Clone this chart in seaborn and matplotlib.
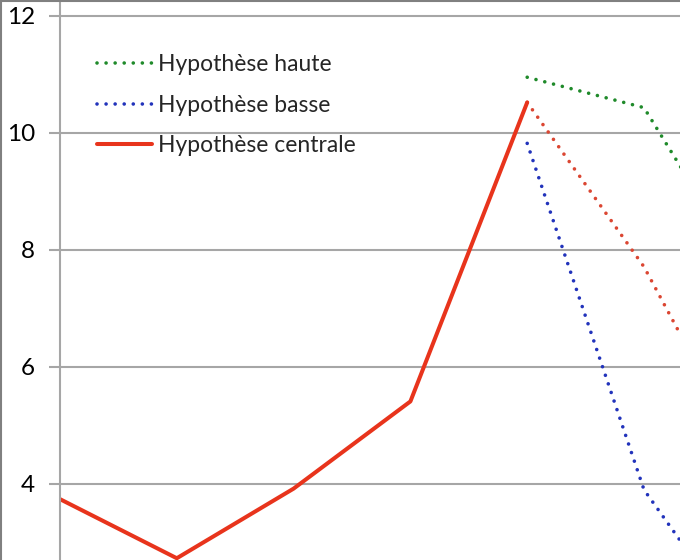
import pandas as pd
import seaborn as sns
import matplotlib.pyplot as plt
from matplotlib.lines import Line2D

# values (index 6 is just outside the visible frame)
periode = [0, 1, 2, 3, 4, 5, 6]
centrale_hist = [3.74, 2.73, 3.92, 5.41, 10.52, None, None]
haute = [None, None, None, None, 10.95, 10.43, 7.2]
basse = [None, None, None, None, 9.82, 3.90, 1.1]
centrale_proj = [None, None, None, None, 10.52, 7.71, 4.0]
y_ticks = [4, 6, 8, 10, 12]

df = pd.DataFrame({'periode': periode, 'centrale': centrale_hist, 'haute': haute,
                   'basse': basse, 'centrale_proj': centrale_proj})

sns.set_style('white')
plt.rcParams['font.family'] = ['Lato', 'DejaVu Sans']

fig = plt.figure(figsize=(6.8, 5.6), dpi=100)
ax = fig.add_axes([60 / 680, 0, 620 / 680, 1])

dots = (0, (0.01, 2.5))
green, blue, red_dot, red = '#1f8a2a', '#2233bb', '#db4632', '#e8341c'

sns.lineplot(data=df, x='periode', y='haute', ax=ax, color=green, lw=2.6,
             linestyle=dots, dash_capstyle='round', label='Hypothèse haute')
sns.lineplot(data=df, x='periode', y='basse', ax=ax, color=blue, lw=2.6,
             linestyle=dots, dash_capstyle='round', label='Hypothèse basse')
sns.lineplot(data=df, x='periode', y='centrale_proj', ax=ax, color=red_dot, lw=2.6,
             linestyle=dots, dash_capstyle='round', legend=False)
sns.lineplot(data=df, x='periode', y='centrale', ax=ax, color=red, lw=2.9,
             label='Hypothèse centrale')

ax.set_xlim(0, 620 / 116.8)
ax.set_ylim(2.70, 12.27)
ax.set_yticks(y_ticks)
ax.set_xticks([])
ax.set_xlabel('')
ax.set_ylabel('')
ax.yaxis.grid(True, color='#a6a6a6', lw=1.5)
ax.tick_params(axis='y', left=True, length=8, width=1.5, color='#a6a6a6',
               labelsize=17.5, pad=10, labelcolor='black')
for s in ['top', 'right', 'bottom']:
    ax.spines[s].set_visible(False)
ax.spines['left'].set_color('#a6a6a6')
ax.spines['left'].set_linewidth(1.5)

leg = ax.legend(loc='upper left', bbox_to_anchor=(97 / 680, 1 - 54 / 560),
                bbox_transform=fig.transFigure, frameon=False, fontsize=16.5,
                handlelength=2.4, handletextpad=0.25, labelspacing=0.86,
                borderpad=0, borderaxespad=0)

# thin frame left over from the cropped chart
fig.add_artist(Line2D([0.0015, 0.0015], [0, 1], transform=fig.transFigure, color='#808080', lw=1.5))
fig.add_artist(Line2D([0, 1], [0.998, 0.998], transform=fig.transFigure, color='#808080', lw=1.5))

fig.savefig('out.png', dpi=100)
